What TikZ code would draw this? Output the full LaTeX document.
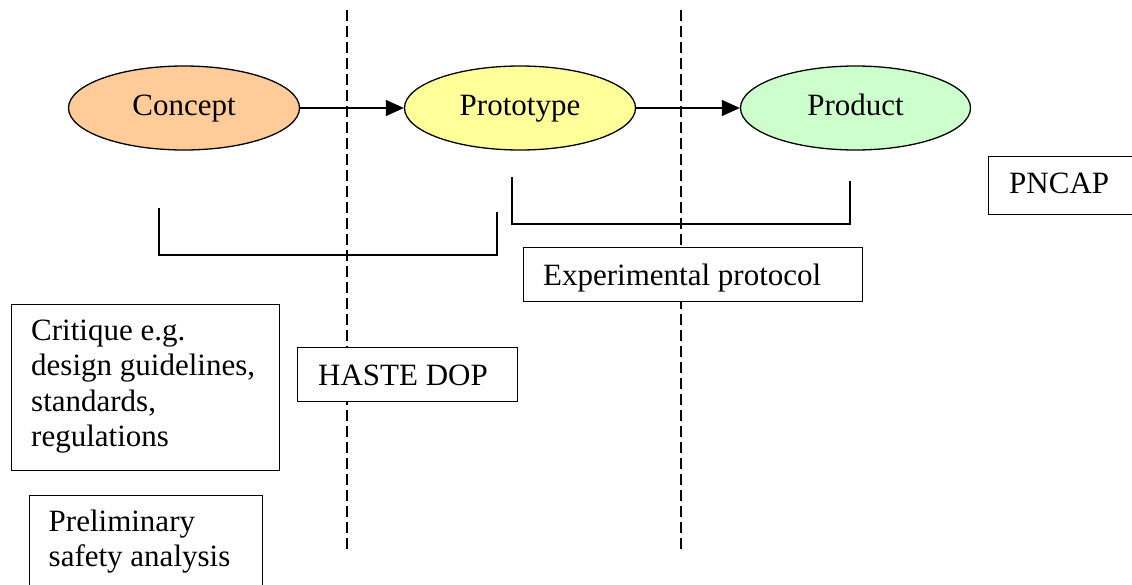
\documentclass[tikz,border=0pt]{standalone}
\usepackage{fontspec}
\setmainfont{Liberation Serif}
\usetikzlibrary{shapes.geometric,arrows.meta}
\definecolor{conceptc}{HTML}{FFCC99}
\definecolor{protoc}{HTML}{FFFF99}
\definecolor{productc}{HTML}{CCFFCC}
\newcommand{\dgfont}{\fontsize{31}{35.5}\selectfont}
\begin{document}
\begin{tikzpicture}[x=1pt,y=-1pt,
  ell/.style={ellipse, draw, line width=1.3pt, minimum width=231pt, minimum height=84pt, inner sep=0pt, text height=21pt, text depth=7pt, font=\dgfont},
  box/.style={draw, line width=1.3pt, fill=white, inner sep=0pt, anchor=north west},
  lbl/.style={anchor=base west, inner sep=0pt, align=left, font=\dgfont},
  link/.style={line width=1.3pt},
  sep/.style={line width=1.1pt, dash pattern=on 11pt off 5pt}]
\useasboundingbox (0,0) rectangle (1132,584);
% separators
\coordinate (d1t) at (347,10); \coordinate (d1b) at (347,550);
\coordinate (d2t) at (681,10); \coordinate (d2b) at (681,550);
\draw[sep] (d1t) -- (d1b);
\draw[sep] (d2t) -- (d2b);
% stages
\node[ell, fill=conceptc] (concept) at (184,108) {Concept};
\node[ell, fill=protoc] (proto) at (520,108) {Prototype};
\node[ell, fill=productc, minimum width=230pt] (product) at (855.5,108) {Product};
\draw[link,-{Triangle[length=18pt,width=16pt]}] (concept) -- (proto);
\draw[link,-{Triangle[length=18pt,width=16pt]}] (proto) -- (product);
% brackets
\coordinate (b1a) at (159,208); \coordinate (b1b) at (497,212);
\draw[link] (b1a) -- (159,255) -- (497,255) -- (b1b);
\coordinate (b2a) at (512,177); \coordinate (b2b) at (850,181);
\draw[link] (b2a) -- (512,224) -- (850,224) -- (b2b);
% boxes
\node[box, minimum width=339pt, minimum height=54pt] (expbox) at (523,247) {};
\node[lbl] (exp) at (543,285) {Experimental protocol};
\node[box, minimum width=146pt, minimum height=58pt] (pncapbox) at (988,156) {};
\node[lbl] (pncap) at (1009,193) {PNCAP};
\node[box, minimum width=268pt, minimum height=166pt] (critbox) at (11,304) {};
\node[lbl] (crit) at (31,446.5) {Critique e.g.\\design guidelines,\\standards,\\regulations};
\node[box, minimum width=220pt, minimum height=54pt] (hastebox) at (297,347) {};
\node[lbl] (haste) at (318,385) {HASTE DOP};
\node[box, minimum width=233pt, minimum height=92pt] (prelimbox) at (29,495) {};
\node[lbl] (prelim) at (48.5,566.5) {Preliminary\\safety analysis};
\end{tikzpicture}
\end{document}
